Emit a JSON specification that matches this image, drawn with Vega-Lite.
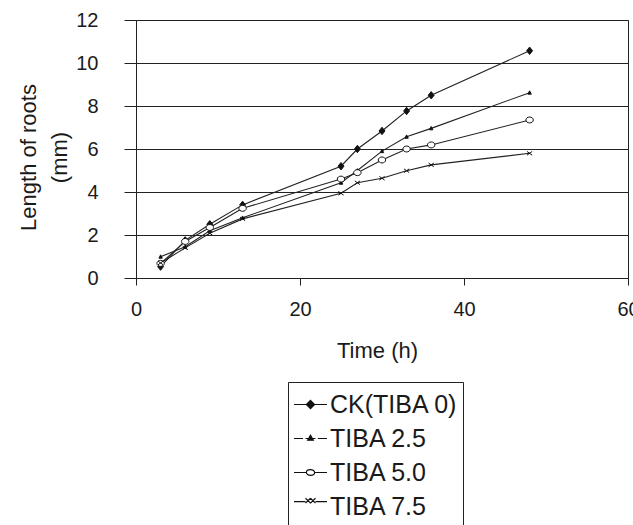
{
  "$schema": "https://vega.github.io/schema/vega-lite/v6.json",
  "width": 492,
  "height": 258,
  "autosize": "none",
  "padding": {"left": 136, "top": 20, "right": 5, "bottom": 247},
  "background": "white",
  "config": {
    "font": "Liberation Sans",
    "view": {"stroke": "#222", "strokeWidth": 1},
    "axis": {"domainColor": "#222", "tickColor": "#222", "labelColor": "#1a1a1a", "titleColor": "#1a1a1a", "labelFont": "Liberation Sans", "titleFont": "Liberation Sans", "titleFontWeight": "normal"}
  },
  "data": {
    "values": [
      {"series": "CK(TIBA 0)", "time": 3, "length": 0.53},
      {"series": "CK(TIBA 0)", "time": 6, "length": 1.75},
      {"series": "CK(TIBA 0)", "time": 9, "length": 2.5},
      {"series": "CK(TIBA 0)", "time": 13, "length": 3.4},
      {"series": "CK(TIBA 0)", "time": 25, "length": 5.2},
      {"series": "CK(TIBA 0)", "time": 27, "length": 6.0},
      {"series": "CK(TIBA 0)", "time": 30, "length": 6.84},
      {"series": "CK(TIBA 0)", "time": 33, "length": 7.77},
      {"series": "CK(TIBA 0)", "time": 36, "length": 8.5},
      {"series": "CK(TIBA 0)", "time": 48, "length": 10.57},
      {"series": "TIBA 2.5", "time": 3, "length": 0.99},
      {"series": "TIBA 2.5", "time": 6, "length": 1.45},
      {"series": "TIBA 2.5", "time": 9, "length": 2.2},
      {"series": "TIBA 2.5", "time": 13, "length": 2.8},
      {"series": "TIBA 2.5", "time": 25, "length": 4.43},
      {"series": "TIBA 2.5", "time": 27, "length": 5.0},
      {"series": "TIBA 2.5", "time": 30, "length": 5.9},
      {"series": "TIBA 2.5", "time": 33, "length": 6.57},
      {"series": "TIBA 2.5", "time": 36, "length": 6.96},
      {"series": "TIBA 2.5", "time": 48, "length": 8.62},
      {"series": "TIBA 5.0", "time": 3, "length": 0.68},
      {"series": "TIBA 5.0", "time": 6, "length": 1.7},
      {"series": "TIBA 5.0", "time": 9, "length": 2.35},
      {"series": "TIBA 5.0", "time": 13, "length": 3.24},
      {"series": "TIBA 5.0", "time": 25, "length": 4.6},
      {"series": "TIBA 5.0", "time": 27, "length": 4.9},
      {"series": "TIBA 5.0", "time": 30, "length": 5.49},
      {"series": "TIBA 5.0", "time": 33, "length": 6.0},
      {"series": "TIBA 5.0", "time": 36, "length": 6.19},
      {"series": "TIBA 5.0", "time": 48, "length": 7.35},
      {"series": "TIBA 7.5", "time": 3, "length": 0.7},
      {"series": "TIBA 7.5", "time": 6, "length": 1.4},
      {"series": "TIBA 7.5", "time": 9, "length": 2.08},
      {"series": "TIBA 7.5", "time": 13, "length": 2.75},
      {"series": "TIBA 7.5", "time": 25, "length": 3.94},
      {"series": "TIBA 7.5", "time": 27, "length": 4.43},
      {"series": "TIBA 7.5", "time": 30, "length": 4.64},
      {"series": "TIBA 7.5", "time": 33, "length": 4.99},
      {"series": "TIBA 7.5", "time": 36, "length": 5.26},
      {"series": "TIBA 7.5", "time": 48, "length": 5.8}
    ]
  },
  "encoding": {
    "x": {
      "field": "time", "type": "quantitative",
      "scale": {"domain": [0, 60], "nice": false},
      "axis": {"values": [0, 20, 40, 60], "grid": false, "tickSize": 7, "labelFontSize": 20, "labelPadding": 14, "labelFlush": false, "labelOverlap": false, "title": "Time (h)", "titleFontSize": 22, "titleX": 241, "titleY": 79, "titleBaseline": "alphabetic"}
    },
    "y": {
      "field": "length", "type": "quantitative",
      "scale": {"domain": [0, 12], "nice": false},
      "axis": {"values": [0, 2, 4, 6, 8, 10, 12], "grid": true, "gridColor": "#222", "gridOpacity": 1, "gridWidth": 1.1, "tickSize": 12, "labelFontSize": 20, "labelPadding": 26, "labelBaseline": "middle", "title": ["Length of roots", "(mm)"], "titleFontSize": 22, "titleLineHeight": 31, "titleX": -108, "titleY": 137, "titleAngle": -90, "titleBaseline": "middle", "titleAlign": "center"}
    }
  },
  "layer": [
    {
      "mark": {"type": "line", "stroke": "#222", "strokeWidth": 1.1},
      "encoding": {"detail": {"field": "series"}}
    },
    {
      "mark": {"type": "point", "stroke": "#111", "strokeWidth": 1, "opacity": 1, "filled": false, "size": 55},
      "encoding": {
        "shape": {
          "field": "series", "type": "nominal",
          "scale": {"domain": ["CK(TIBA 0)", "TIBA 2.5", "TIBA 5.0", "TIBA 7.5"], "range": ["M0,-1L0.8,0L0,1L-0.8,0Z", "M0,-0.5L0.45,0.4L-0.45,0.4Z", "M1,0A1,0.8 0 1,1 -1,0A1,0.8 0 1,1 1,0Z", "M-0.7,-0.5L0.7,0.5M-0.7,0.5L0.7,-0.5"]},
          "legend": null
        },
        "fill": {
          "field": "series", "type": "nominal",
          "scale": {"domain": ["CK(TIBA 0)", "TIBA 2.5", "TIBA 5.0", "TIBA 7.5"], "range": ["#111", "#111", "white", "#111"]},
          "legend": null
        }
      }
    },
    {
      "transform": [{"filter": "datum.time < 0"}],
      "mark": {"type": "point", "strokeWidth": 1.2, "opacity": 1, "filled": false, "size": 1089},
      "encoding": {
        "shape": {
          "field": "series", "type": "nominal",
          "scale": {"domain": ["CK(TIBA 0)", "TIBA 2.5", "TIBA 5.0", "TIBA 7.5"], "range": ["M-1,0H1M0,-0.25L0.25,0L0,0.25L-0.25,0Z", "M-1,0H-0.45M-0.3,0H0.3M0.45,0H1M0,-0.2L0.17,0.1L-0.17,0.1Z", "M-1,0H-0.25M0.25,0H1M0.25,0A0.25,0.17 0 1,1 -0.25,0A0.25,0.17 0 1,1 0.25,0Z", "M-1,-0.3H-0.3M0.3,-0.3H1M-0.3,-0.5L0,-0.2M0,-0.5L-0.3,-0.2M0,-0.5L0.3,-0.2M0.3,-0.5L0,-0.2"]},
          "legend": {
            "title": null,
            "orient": "none",
            "legendX": 152,
            "legendY": 362,
            "strokeColor": "#222",
            "fillColor": "white",
            "padding": 5,
            "symbolSize": 1089,
            "symbolStrokeWidth": 1.2,
            "symbolOpacity": 1,
            "labelFontSize": 25,
            "labelFont": "Liberation Sans",
            "labelColor": "#1a1a1a",
            "labelOffset": 2,
            "rowPadding": 3,
            "labelLimit": 300
          }
        },
        "fill": {
          "field": "series", "type": "nominal",
          "scale": {"domain": ["CK(TIBA 0)", "TIBA 2.5", "TIBA 5.0", "TIBA 7.5"], "range": ["#111", "#111", "white", "#111"]}
        },
        "stroke": {
          "field": "series", "type": "nominal",
          "scale": {"domain": ["CK(TIBA 0)", "TIBA 2.5", "TIBA 5.0", "TIBA 7.5"], "range": ["#111", "#111", "#111", "#111"]}
        }
      }
    }
  ],
  "resolve": {"scale": {"shape": "independent", "fill": "independent", "stroke": "independent"}, "legend": {"shape": "independent", "fill": "independent", "stroke": "independent"}}
}
